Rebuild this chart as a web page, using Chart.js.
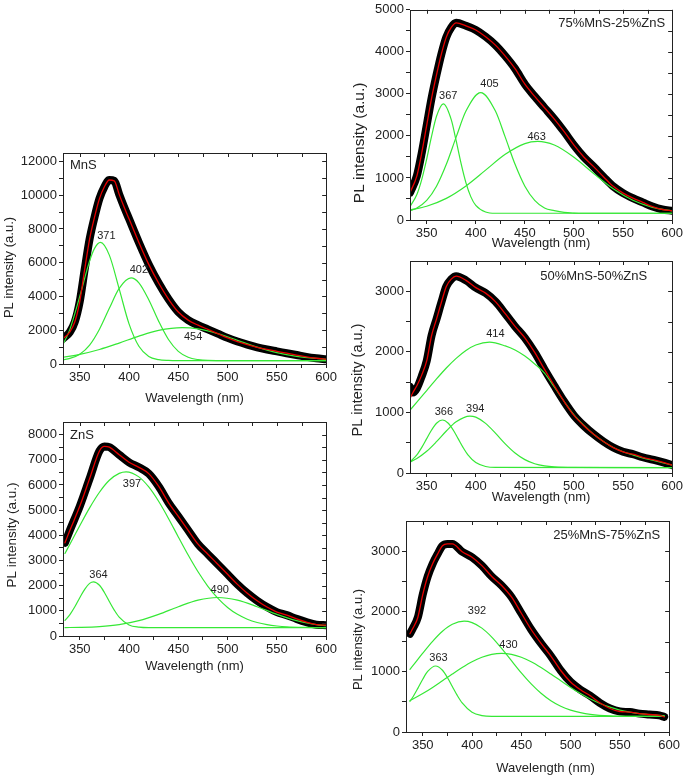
<!DOCTYPE html>
<html>
<head>
<meta charset="utf-8">
<script src="https://cdn.jsdelivr.net/npm/chart.js@4.4.1/dist/chart.umd.min.js"></script>
<style>
  body { margin: 0; background: #fff; width: 685px; height: 776px; overflow: hidden; position: relative; }
  canvas { position: absolute; }
</style>
</head>
<body>
<canvas id="c1"></canvas>
<canvas id="c2"></canvas>
<canvas id="c3"></canvas>
<canvas id="c4"></canvas>
<canvas id="c5"></canvas>
<script>
// ---- ticks
const wlMajor = [350, 400, 450, 500, 550, 600];
const wlMinor = [375, 425, 475, 525, 575];

// ---- MnS
const mnsWl = [333,340,345,350,355,360,365,370,375,380,385,390,395,400,410,420,430,440,450,460,470,480,490,500,510,520,530,540,550,560,570,580,590,600];
const mnsPL = [1500,1900,2500,3700,5600,7400,8700,9800,10500,10900,10850,10050,9300,8600,7200,5900,4800,3850,3080,2600,2300,2050,1800,1550,1330,1150,990,860,750,640,530,420,340,280];
const mnsG371Wl = [333,340,350,360,365,371,380,390,400,410,420,430,440,450,600];
const mnsG371 = [1150,2050,4000,6100,6850,7200,6450,4450,2380,1050,450,260,210,200,200];
const mnsG402Wl = [333,340,350,360,370,380,390,402,410,420,430,440,450,460,470,480,500,600];
const mnsG402 = [260,330,580,1120,2060,3300,4480,5100,4810,3810,2540,1450,750,400,260,210,200,200];
const mnsG454Wl = [333,350,370,390,410,430,454,470,490,510,530,550,570,600];
const mnsG454 = [400,570,860,1240,1650,1990,2150,2080,1800,1400,1000,670,450,275];
const mnsMajor = [0,2000,4000,6000,8000,10000,12000];
const mnsMinor = [1000,3000,5000,7000,9000,11000];

// ---- ZnS
const znsWl = [335,340,350,360,370,375,380,390,400,410,420,430,440,450,460,470,480,490,500,510,520,530,540,550,560,570,580,590,600];
const znsPL = [3700,4200,5150,6250,7350,7530,7500,7200,6900,6700,6450,5950,5300,4750,4200,3650,3250,2850,2450,2050,1700,1400,1150,950,830,680,550,450,430];
const znsG364Wl = [335,340,345,350,355,360,364,370,375,380,385,390,400,410,420,600];
const znsG364 = [620,850,1160,1520,1855,2090,2150,2015,1730,1370,1030,750,440,350,330,330];
const znsG397Wl = [335,340,350,360,370,380,390,397,410,420,430,440,450,460,470,480,490,500,510,520,530,540,550,560,580,600];
const znsG397 = [3280,3645,4380,5090,5710,6185,6460,6520,6320,5920,5350,4670,3935,3215,2550,1975,1505,1135,860,667,535,450,398,365,340,330];
const znsG490Wl = [335,350,370,390,410,430,450,470,490,510,530,550,570,590,600];
const znsG490 = [335,344,376,454,611,860,1164,1426,1530,1426,1164,860,611,454,407];
const znsMajor = [0,1000,2000,3000,4000,5000,6000,7000,8000];
const znsMinor = [500,1500,2500,3500,4500,5500,6500,7500];

// ---- 75%MnS-25%ZnS
const m75Wl = [333,340,345,350,355,360,365,370,375,380,390,400,410,420,430,440,450,460,470,480,490,500,510,520,530,540,550,560,570,580,590,600];
const m75PL = [650,1050,1600,2250,2900,3450,3950,4350,4580,4690,4620,4520,4360,4160,3900,3600,3230,2940,2670,2400,2100,1780,1500,1270,1030,800,640,520,420,320,250,220];
const m75G367Wl = [333,340,345,350,355,360,367,375,380,385,390,395,400,410,420,600];
const m75G367 = [318,605,966,1450,1995,2468,2760,2386,1886,1346,883,550,347,190,160,160];
const m75G405Wl = [333,340,350,360,370,380,390,405,420,430,440,450,460,470,480,490,500,510,600];
const m75G405 = [223,286,467,803,1324,1971,2591,3030,2591,1971,1324,803,467,286,223,180,165,160,160];
const m75G463Wl = [333,350,370,390,410,430,450,463,480,500,520,540,560,580,600];
const m75G463 = [240,328,515,810,1186,1563,1818,1870,1783,1493,1107,742,469,302,216];
const m75Major = [0,1000,2000,3000,4000,5000];
const m75Minor = [500,1500,2500,3500,4500];

// ---- 50%MnS-50%ZnS
const m50Wl = [333,336,340,345,350,355,360,365,370,375,380,390,400,410,420,430,440,450,460,470,480,490,500,510,520,530,540,550,560,570,580,590,600];
const m50PL = [1420,1330,1400,1600,1850,2270,2540,2820,3080,3200,3250,3180,3060,2970,2830,2630,2420,2230,1990,1710,1440,1180,950,780,640,520,420,350,310,260,220,180,130];
const m50Fit = [1230,1330,1440,1620,1850,2270,2540,2820,3080,3200,3250,3180,3060,2970,2830,2630,2420,2230,1990,1710,1440,1180,950,780,640,520,420,350,310,260,220,180,130];
const m50G366Wl = [333,340,345,350,355,360,366,372,377,382,387,392,400,410,420,600];
const m50G366 = [184,300,423,567,710,822,875,822,710,567,423,300,172,108,92,90];
const m50G394Wl = [333,340,350,360,370,380,394,400,410,420,430,440,450,460,470,480,500,600];
const m50G394 = [182,239,358,517,693,846,940,922,819,658,482,331,221,153,117,100,92,90];
const m50G414Wl = [333,340,350,360,370,380,390,400,414,430,440,450,460,470,480,490,500,510,520,530,540,550,560,570,580,590,600];
const m50G414 = [1038,1169,1361,1553,1734,1893,2023,2113,2160,2098,2030,1930,1800,1650,1420,1180,960,790,640,520,420,350,300,250,210,170,130];
const m50Major = [0,1000,2000,3000];
const m50Minor = [500,1500,2500];

// ---- 25%MnS-75%ZnS
const m25Wl = [337,340,345,350,355,360,365,370,375,380,390,400,410,420,430,440,450,460,470,480,490,500,510,520,530,540,550,560,570,580,590,595];
const m25PL = [1630,1720,1900,2280,2580,2790,2950,3090,3120,3120,2990,2900,2760,2580,2430,2240,1970,1700,1470,1260,1020,830,700,600,480,390,340,330,305,290,275,250];
const m25G363Wl = [337,340,345,350,355,363,370,375,380,385,390,400,410,420,595];
const m25G363 = [506,580,724,875,1004,1095,1024,903,754,607,483,328,273,260,258];
const m25G392Wl = [337,340,350,360,370,380,392,400,410,420,430,440,450,460,470,480,490,500,510,520,540,560,595];
const m25G392 = [1040,1100,1307,1503,1670,1786,1838,1814,1723,1575,1387,1182,980,797,642,519,427,363,320,293,267,260,258];
const m25G430Wl = [337,340,350,360,370,380,390,400,410,420,430,440,450,460,470,480,490,500,510,520,530,540,550,560,570,580,590,595];
const m25G430 = [523,547,637,739,850,962,1070,1166,1240,1288,1305,1288,1240,1166,1070,962,850,739,637,547,473,412,364,329,305,287,276,272];
const m25Major = [0,1000,2000,3000];
const m25Minor = [500,1500,2500];

const FONT = "'Liberation Sans', Arial, sans-serif";
const INK = '#222';
const GREEN = '#36e836';

function pts(xs, ys) {
  return xs.map((x, i) => ({ x: x, y: ys[i] }));
}

// frame, mirrored ticks and all the text
const decor = {
  id: 'decor',
  afterDatasetsDraw(chart, args, o) {
    const ctx = chart.ctx;
    const a = chart.chartArea;
    const sx = chart.scales.x, sy = chart.scales.y;
    ctx.save();
    ctx.strokeStyle = INK;
    ctx.lineWidth = 1;
    ctx.strokeRect(Math.round(a.left) + 0.5, Math.round(a.top) + 0.5, Math.round(a.width), Math.round(a.height));
    ctx.beginPath();
    sx.ticks.forEach(t => {
      const px = Math.round(sx.getPixelForValue(t.value)) + 0.5;
      ctx.moveTo(px, a.top);
      ctx.lineTo(px, a.top + 4);
    });
    sy.ticks.forEach(t => {
      const py = Math.round(sy.getPixelForValue(t.value)) + 0.5;
      ctx.moveTo(a.right, py);
      ctx.lineTo(a.right - 4, py);
    });
    ctx.stroke();

    ctx.fillStyle = INK;
    ctx.textBaseline = 'middle';
    ctx.textAlign = 'center';
    ctx.font = '11px ' + FONT;
    o.peaks.forEach(p => {
      ctx.fillText(p.t, sx.getPixelForValue(p.x), sy.getPixelForValue(p.y));
    });

    ctx.font = '13px ' + FONT;
    if (o.name.side === 'left') {
      ctx.textAlign = 'left';
      ctx.fillText(o.name.t, a.left + o.name.dx, a.top + o.name.dy);
    } else {
      ctx.textAlign = 'right';
      ctx.fillText(o.name.t, a.right - o.name.dx, a.top + o.name.dy);
    }

    ctx.textAlign = 'center';
    ctx.fillText('Wavelength (nm)', (a.left + a.right) / 2 + o.xTitle.dx, a.bottom + o.xTitle.dy);

    ctx.font = o.yTitle.size + 'px ' + FONT;
    ctx.translate(a.left - o.yTitle.gap, (a.top + a.bottom) / 2 + o.yTitle.dy);
    ctx.rotate(-Math.PI / 2);
    ctx.fillText('PL intensity (a.u.)', 0, 0);
    ctx.restore();
  }
};

function axis(min, max, major, minor, fit) {
  return {
    type: 'linear',
    min: min,
    max: max,
    afterBuildTicks: s => {
      s.ticks = major.concat(minor).sort((p, q) => p - q).map(v => ({ value: v }));
    },
    afterFit: fit,
    border: { display: false },
    grid: { drawOnChartArea: false, drawTicks: true, tickLength: 4, color: INK },
    ticks: {
      autoSkip: false, maxRotation: 0, padding: 2, color: INK,
      font: { family: FONT, size: 13 },
      callback: v => (major.includes(v) ? String(v) : '')
    }
  };
}

function panel(id, box, d) {
  const cv = document.getElementById(id);
  const W = 63 + box.w + 11;
  const H = box.padTop + box.h + box.xH;
  cv.width = W;
  cv.height = H;
  cv.style.left = (box.left - 63) + 'px';
  cv.style.top = (box.top - box.padTop) + 'px';

  const datasets = [
    { data: pts(d.wl, d.fit), borderColor: '#e80000', borderWidth: 1.3, order: 1 },
    { data: pts(d.wl, d.pl), borderColor: '#000', borderWidth: 8, order: 3 }
  ];
  d.comps.forEach(c => {
    datasets.push({ data: pts(c[0], c[1]), borderColor: GREEN, borderWidth: 1.2, order: 2 });
  });

  new Chart(cv, {
    type: 'line',
    data: { datasets: datasets },
    options: {
      responsive: false,
      animation: false,
      events: [],
      layout: { autoPadding: false, padding: { left: 0, top: box.padTop, right: 11, bottom: 0 } },
      elements: {
        point: { radius: 0 },
        line: { cubicInterpolationMode: 'monotone', borderJoinStyle: 'round', borderCapStyle: 'round' }
      },
      scales: {
        x: axis(333, 600, wlMajor, wlMinor, s => { s.height = box.xH; }),
        y: axis(0, d.ymax, d.major, d.minor, s => { s.width = 63; })
      },
      plugins: {
        legend: { display: false },
        tooltip: { enabled: false },
        decor: d.text
      }
    },
    plugins: [decor]
  });
}

panel('c1', { left: 63, top: 153, w: 265, h: 211, padTop: 10, xH: 46 }, {
  wl: mnsWl, pl: mnsPL, fit: mnsPL, ymax: 12500, major: mnsMajor, minor: mnsMinor,
  comps: [[mnsG371Wl, mnsG371], [mnsG402Wl, mnsG402], [mnsG454Wl, mnsG454]],
  text: {
    peaks: [{ t: '371', x: 377, y: 7600 }, { t: '402', x: 410, y: 5570 }, { t: '454', x: 465, y: 1600 }],
    name: { t: 'MnS', side: 'left', dx: 7, dy: 12 },
    xTitle: { dx: 0, dy: 34 },
    yTitle: { gap: 54, dy: 9, size: 13 }
  }
});

panel('c2', { left: 63, top: 422, w: 265, h: 214, padTop: 10, xH: 46 }, {
  wl: znsWl, pl: znsPL, fit: znsPL, ymax: 8500, major: znsMajor, minor: znsMinor,
  comps: [[znsG364Wl, znsG364], [znsG397Wl, znsG397], [znsG490Wl, znsG490]],
  text: {
    peaks: [{ t: '364', x: 369, y: 2430 }, { t: '397', x: 403, y: 6050 }, { t: '490', x: 492, y: 1830 }],
    name: { t: 'ZnS', side: 'left', dx: 7, dy: 13 },
    xTitle: { dx: 0, dy: 30 },
    yTitle: { gap: 51, dy: 6, size: 13.5 }
  }
});

panel('c3', { left: 410, top: 8, w: 264, h: 212, padTop: 8, xH: 46 }, {
  wl: m75Wl, pl: m75PL, fit: m75PL, ymax: 5000, major: m75Major, minor: m75Minor,
  comps: [[m75G367Wl, m75G367], [m75G405Wl, m75G405], [m75G463Wl, m75G463]],
  text: {
    peaks: [{ t: '367', x: 372, y: 2940 }, { t: '405', x: 414, y: 3230 }, { t: '463', x: 462, y: 1985 }],
    name: { t: '75%MnS-25%ZnS', side: 'right', dx: 7, dy: 14 },
    xTitle: { dx: 0, dy: 23 },
    yTitle: { gap: 50, dy: 28, size: 15.5 }
  }
});

panel('c4', { left: 410, top: 261, w: 264, h: 212, padTop: 10, xH: 46 }, {
  wl: m50Wl, pl: m50PL, fit: m50Fit, ymax: 3500, major: m50Major, minor: m50Minor,
  comps: [[m50G366Wl, m50G366], [m50G394Wl, m50G394], [m50G414Wl, m50G414]],
  text: {
    peaks: [{ t: '414', x: 420, y: 2300 }, { t: '366', x: 367.5, y: 1010 }, { t: '394', x: 399.5, y: 1055 }],
    name: { t: '50%MnS-50%ZnS', side: 'right', dx: 25, dy: 15 },
    xTitle: { dx: 0, dy: 24 },
    yTitle: { gap: 52, dy: 13, size: 14.5 }
  }
});

panel('c5', { left: 406, top: 521, w: 265, h: 211, padTop: 10, xH: 44 }, {
  wl: m25Wl, pl: m25PL, fit: m25PL, ymax: 3500, major: m25Major, minor: m25Minor,
  comps: [[m25G363Wl, m25G363], [m25G392Wl, m25G392], [m25G430Wl, m25G430]],
  text: {
    peaks: [{ t: '392', x: 405, y: 2010 }, { t: '363', x: 366, y: 1220 }, { t: '430', x: 437, y: 1440 }],
    name: { t: '25%MnS-75%ZnS', side: 'right', dx: 9, dy: 14 },
    xTitle: { dx: 8, dy: 36 },
    yTitle: { gap: 48, dy: 13, size: 13 }
  }
});
</script>
</body>
</html>
